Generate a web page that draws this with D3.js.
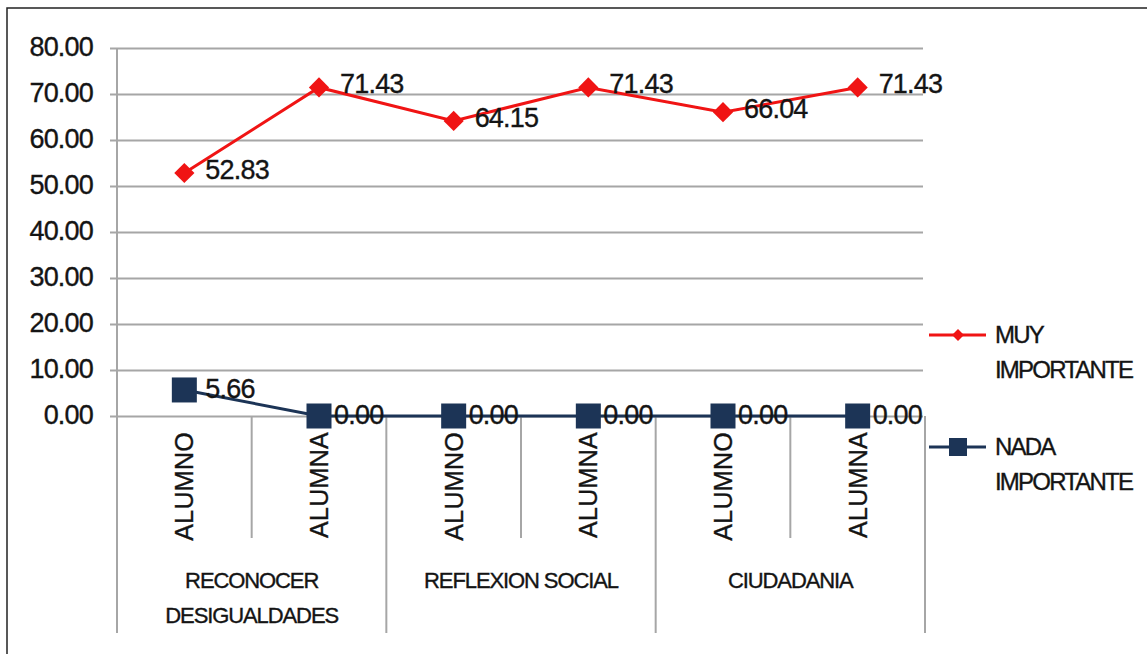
<!DOCTYPE html>
<html><head><meta charset="utf-8">
<script src="https://cdn.jsdelivr.net/npm/d3@7"></script>
<style>
html,body{margin:0;padding:0;background:#fff;}
svg text{font-family:"Liberation Sans",Arial,sans-serif;fill:#141414;stroke:#141414;stroke-width:0.35px;}
</style></head>
<body>
<svg id="c" width="1147" height="654"></svg>
<script>
const subCategories = ["ALUMNO","ALUMNA","ALUMNO","ALUMNA","ALUMNO","ALUMNA"];
const groupLabels = [["RECONOCER","DESIGUALDADES"],["REFLEXION SOCIAL"],["CIUDADANIA"]];
const muyImportante = [52.83,71.43,64.15,71.43,66.04,71.43];
const nadaImportante = [5.66,0.00,0.00,0.00,0.00,0.00];
const yTicks = [0,10,20,30,40,50,60,70,80];
const seriesNames = [["MUY","IMPORTANTE"],["NADA","IMPORTANTE"]];

const svg = d3.select("#c");
const pL = 117, pR = 925, pT = 48, zeroY = 416;
const redC = "#f01414", blueC = "#1c3456", gridC = "#a6a6a6";

// frame
svg.append("rect").attr("x",7).attr("y",8).attr("width",1300).attr("height",800)
  .attr("fill","none").attr("stroke","#222").attr("stroke-width",1.5);

const x = d3.scaleBand().domain(d3.range(subCategories.length)).range([pL,pR]).padding(0);
const y = d3.scaleLinear().domain([0,80]).range([zeroY,pT]);
const cx = i => x(i) + x.bandwidth()/2;

// gridlines + y axis
const yAxis = d3.axisLeft(y).tickValues(yTicks).tickFormat(d3.format(".2f"))
  .tickSize(-(923-pL)).tickPadding(0);
const gy = svg.append("g").attr("transform",`translate(${pL},0)`).call(yAxis);
gy.select(".domain").remove();
gy.selectAll(".tick line").attr("stroke",gridC).attr("stroke-width",2).attr("x1",-7);
gy.selectAll(".tick text").attr("x",-24).attr("dy","0.28em")
  .style("font-size","27px").style("letter-spacing","-0.8px")
  .style("font-family","'Liberation Sans',Arial,sans-serif");

// left vertical axis
svg.append("line").attr("x1",pL).attr("x2",pL).attr("y1",pT).attr("y2",633)
  .attr("stroke",gridC).attr("stroke-width",2);

// category separators
for (let i=1;i<=subCategories.length;i++){
  const xx = i<subCategories.length ? x(i) : pR;
  const long = i%2===0;
  svg.append("line").attr("x1",xx).attr("x2",xx).attr("y1",zeroY).attr("y2",long?633:538)
    .attr("stroke",gridC).attr("stroke-width",2);
}

// sub category labels
svg.selectAll("text.sub").data(subCategories).join("text").attr("class","sub")
  .attr("transform",(d,i)=>`translate(${cx(i)+9},432) rotate(-90)`)
  .attr("text-anchor","end").style("font-size","25px").style("letter-spacing","0.3px")
  .text(d=>d);

// group labels
groupLabels.forEach((lines,g)=>{
  const gx = (x(g*2) + (g*2+2<subCategories.length ? x(g*2+2) : pR))/2;
  const t = svg.append("text").attr("text-anchor","middle").attr("x",gx).attr("y",588)
    .style("font-size","22px").style("letter-spacing","-1.1px");
  lines.forEach((l,k)=>t.append("tspan").attr("x",gx).attr("dy",k===0?0:35).text(l));
});

// lines
const line = d3.line().x((d,i)=>cx(i)).y(d=>y(d));
svg.append("path").datum(nadaImportante).attr("d",line).attr("fill","none")
  .attr("stroke",blueC).attr("stroke-width",3);
svg.append("path").datum(muyImportante).attr("d",line).attr("fill","none")
  .attr("stroke",redC).attr("stroke-width",3);

// markers
svg.selectAll("rect.sq").data(nadaImportante).join("rect").attr("class","sq")
  .attr("x",(d,i)=>cx(i)-12.5).attr("y",d=>y(d)-12.5).attr("width",25).attr("height",25)
  .attr("fill",blueC);
svg.selectAll("path.dia").data(muyImportante).join("path").attr("class","dia")
  .attr("d",d3.symbol().type(d3.symbolDiamond2 || d3.symbolDiamond).size(260))
  .attr("transform",(d,i)=>`translate(${cx(i)},${y(d)})`)
  .attr("fill",redC);

// data labels
const fmt = d3.format(".2f");
svg.selectAll("text.lm").data(muyImportante).join("text").attr("class","lm")
  .attr("x",(d,i)=>cx(i)+21).attr("y",d=>y(d)+6)
  .style("font-size","27px").style("letter-spacing","-0.8px").text(d=>fmt(d));
svg.selectAll("text.ln").data(nadaImportante).join("text").attr("class","ln")
  .attr("x",(d,i)=>cx(i)+(d>0?21:15)).attr("y",d=>y(d)+8)
  .style("font-size","27px").style("letter-spacing","-0.8px").text(d=>fmt(d));

// legend
const legY = [335,447];
[redC,blueC].forEach((c,k)=>{
  const ly = legY[k];
  svg.append("line").attr("x1",929).attr("x2",986).attr("y1",ly).attr("y2",ly)
    .attr("stroke",c).attr("stroke-width",3);
  if(k===0){
    svg.append("path").attr("d",d3.symbol().type(d3.symbolDiamond2 || d3.symbolDiamond).size(90))
      .attr("transform",`translate(958,${ly})`).attr("fill",c);
  } else {
    svg.append("rect").attr("x",949).attr("y",ly-9).attr("width",18).attr("height",18).attr("fill",c);
  }
  const t = svg.append("text").attr("x",995).attr("y",ly+8)
    .style("font-size","24px").style("letter-spacing","-1.8px");
  seriesNames[k].forEach((l,j)=>t.append("tspan").attr("x",995).attr("dy",j===0?0:35).text(l));
});
</script>
</body></html>
